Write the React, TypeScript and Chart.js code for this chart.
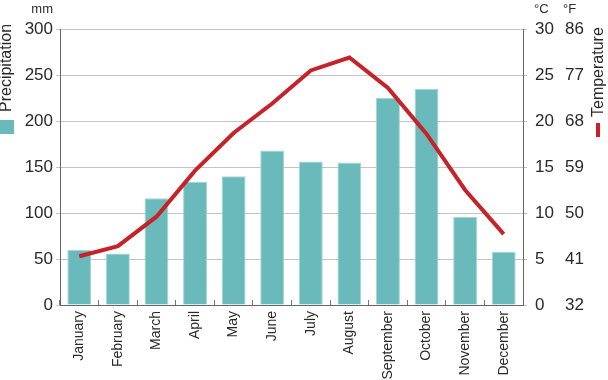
import React, { useEffect, useRef } from "react";
import { Chart, registerables } from "chart.js";

Chart.register(...registerables);

const months = ["January", "February", "March", "April", "May", "June", "July", "August", "September", "October", "November", "December"];
const precipitation = [60, 56, 116, 134, 140, 168, 156, 155, 225, 235, 96, 58];
const temperatureC = [5.3, 6.4, 9.6, 14.6, 18.7, 21.9, 25.5, 26.9, 23.6, 18.6, 12.5, 7.7];

const FONT = "'Liberation Sans', Arial, Helvetica, sans-serif";
const TEXT = "#2a2a2a";
const BAR = "#6ab9bb";
const LINE = "#c62228";

const labelsPlugin = {
  id: "extraLabels",
  afterDraw(chart: any) {
    const ctx = chart.ctx;
    ctx.save();
    ctx.fillStyle = TEXT;
    ctx.font = `13px ${FONT}`;
    ctx.textBaseline = "middle";
    ctx.textAlign = "right";
    ctx.fillText("mm", 53, 9);
    ctx.textAlign = "left";
    ctx.fillText("°C", 534, 9);
    ctx.fillText("°F", 563, 9);

    ctx.font = `16px ${FONT}`;
    ctx.save();
    ctx.translate(7, 112);
    ctx.rotate(-Math.PI / 2);
    ctx.textAlign = "left";
    ctx.textBaseline = "middle";
    ctx.fillText("Precipitation", 0, 0);
    ctx.restore();
    ctx.fillStyle = BAR;
    ctx.fillRect(0, 120, 14, 14);

    ctx.fillStyle = TEXT;
    ctx.save();
    ctx.translate(599, 117);
    ctx.rotate(-Math.PI / 2);
    ctx.textAlign = "left";
    ctx.textBaseline = "middle";
    ctx.fillText("Temperature", 0, 0);
    ctx.restore();
    ctx.fillStyle = LINE;
    ctx.fillRect(596, 123, 4, 14);
    ctx.restore();
  },
};

export default function App() {
  const ref = useRef<HTMLCanvasElement | null>(null);

  useEffect(() => {
    if (!ref.current) return;
    const chart = new Chart(ref.current, {
      type: "bar",
      data: {
        labels: months,
        datasets: [
          {
            type: "line",
            label: "Temperature",
            data: temperatureC,
            yAxisID: "y1",
            borderColor: LINE,
            borderWidth: 4,
            pointRadius: 0,
            tension: 0,
            fill: false,
            order: 0,
          } as any,
          {
            type: "bar",
            label: "Precipitation",
            data: precipitation,
            yAxisID: "y",
            backgroundColor: BAR,
            borderColor: "#a3d6d6",
            borderWidth: 1,
            barPercentage: 0.62,
            categoryPercentage: 1,
            order: 1,
          },
        ],
      },
      options: {
        responsive: false,
        animation: false,
        devicePixelRatio: 1,
        layout: { padding: { top: 29, left: 0, right: 0, bottom: 0 } },
        plugins: { legend: { display: false }, tooltip: { enabled: false } },
        scales: {
          x: {
            position: "bottom",
            offset: true,
            grid: {
              offset: true,
              drawOnChartArea: false,
              drawTicks: true,
              tickLength: -5,
              color: "#777",
            },
            border: { display: true, color: "#666", width: 1 },
            ticks: {
              color: TEXT,
              font: { family: FONT, size: 14 },
              maxRotation: 90,
              minRotation: 90,
              padding: 11,
              autoSkip: false,
            },
            afterFit: (s: any) => {
              s.height = 75;
            },
          },
          y: {
            position: "left",
            min: 0,
            max: 300,
            grid: { color: "#c4c4c4", drawTicks: true, tickLength: 4 },
            border: { display: true, color: "#666", width: 1 },
            ticks: {
              stepSize: 50,
              color: TEXT,
              padding: 3,
              font: { family: FONT, size: 17 },
            },
            afterFit: (s: any) => {
              s.width = 60;
            },
          },
          y1: {
            position: "right",
            min: 0,
            max: 30,
            grid: { drawOnChartArea: false, drawTicks: true, tickLength: 4, color: "#c4c4c4" },
            border: { display: true, color: "#666", width: 1 },
            ticks: {
              stepSize: 5,
              color: TEXT,
              padding: 8,
              font: { family: FONT, size: 17 },
            },
            afterFit: (s: any) => {
              s.width = 40;
            },
          },
          y2: {
            position: "right",
            min: 32,
            max: 86,
            grid: { display: false, drawOnChartArea: false, drawTicks: false },
            border: { display: false },
            ticks: {
              stepSize: 9,
              color: TEXT,
              padding: 2,
              font: { family: FONT, size: 17 },
            },
            afterFit: (s: any) => {
              s.width = 45;
            },
          },
        },
      } as any,
      plugins: [labelsPlugin],
    });
    return () => chart.destroy();
  }, []);

  return (
    <div style={{ position: "fixed", left: 0, top: 0, width: 608, height: 380, background: "#fff" }}>
      <canvas ref={ref} width={608} height={380} style={{ width: 608, height: 380, display: "block" }} />
    </div>
  );
}
